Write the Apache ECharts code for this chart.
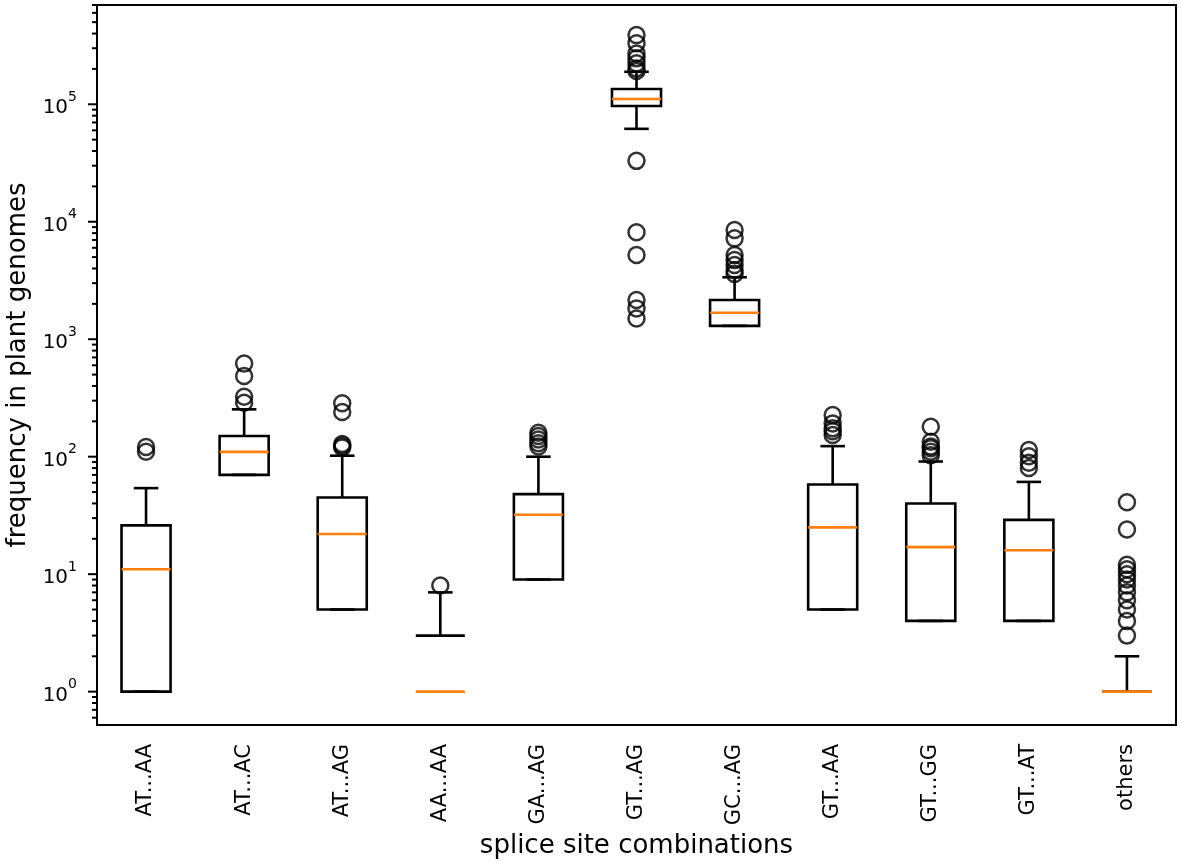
<!DOCTYPE html>
<html>
<head>
<meta charset="utf-8">
<script src="https://cdn.jsdelivr.net/npm/echarts@6/dist/echarts.min.js"></script>
<style>html,body{margin:0;padding:0;background:#fff}#c{width:1181px;height:868px}</style>
</head>
<body>
<div id="c"></div>
<script>
const categories = ['AT...AA','AT...AC','AT...AG','AA...AA','GA...AG','GT...AG','GC...AG','GT...AA','GT...GG','GT...AT','others'];
// 0 means the value is not positive (not drawable on the log axis)
const whiskerLow  = [1, 70, 5, 0, 9, 61800, 1300, 5, 4, 4, 0];
const q1          = [1, 70, 5, 0, 9, 96600, 1300, 5, 4, 4, 0];
const median      = [11, 110, 22, 1, 32, 111000, 1680, 25, 17, 16, 1];
const q3          = [26, 150, 45, 3, 48, 135000, 2160, 58, 40, 29, 1];
const whiskerHigh = [54, 253, 102, 7, 100, 189000, 3370, 123, 91, 61, 2];
const outliers = [
  [110, 121],
  [288, 324, 486, 620],
  [120, 124, 128, 240, 285],
  [8],
  [122, 130, 140, 150, 160],
  [1500, 1830, 2160, 5210, 8130, 33000, 192000, 202000, 223000, 246000, 271000, 330000, 388000],
  [3600, 3880, 4280, 4720, 5210, 7220, 8500],
  [153, 165, 175, 192, 226],
  [103, 110, 118, 122, 134, 180],
  [80, 89, 101, 114],
  [3, 4, 5, 6, 7, 8, 9, 10, 11, 12, 24, 41]
];
const yMin = 0.52, yMax = 700000;
const majorTicks = [1, 10, 100, 1000, 10000, 100000];
const minorMantissas = [2, 3, 4, 5, 6, 7, 8, 9];

const pos = v => (v > 0 ? v : null);
const boxData = categories.map((c, i) => [i, pos(whiskerLow[i]), pos(q1[i]), pos(median[i]), pos(q3[i]), pos(whiskerHigh[i])]);
const flierData = [];
outliers.forEach((arr, i) => arr.forEach(v => flierData.push([i, v])));
const tickData = [];
majorTicks.forEach(v => tickData.push([0, v, 1]));
[0.1, 1, 10, 100, 1000, 10000, 100000].forEach(d => minorMantissas.forEach(m => {
  const v = m * d; if (v >= yMin && v <= yMax) tickData.push([0, v, 0]);
}));

const chart = echarts.init(document.getElementById('c'), null, {renderer: 'canvas'});
const FONT = 'DejaVu Sans';
const LW = 2.6;
const ALW = 2;

function seg(x1, y1, x2, y2, color) {
  if (![x1, y1, x2, y2].every(Number.isFinite)) return null;
  return {type: 'line', shape: {x1, y1, x2, y2}, style: {stroke: color, lineWidth: LW, lineCap: 'butt'}};
}

chart.setOption({
  animation: false,
  backgroundColor: '#fff',
  grid: {left: 97, right: 5, top: 5, bottom: 143, containLabel: false, outerBoundsMode: 'none',
         show: true, borderColor: '#000', borderWidth: ALW, backgroundColor: 'transparent'},
  xAxis: {
    type: 'category', data: categories, boundaryGap: true,
    axisLine: {lineStyle: {color: '#000', width: ALW}},
    axisTick: {alignWithLabel: true, length: 9, lineStyle: {color: '#000', width: ALW}},
    axisLabel: {rotate: 90, margin: 19, color: '#000', fontFamily: FONT, fontSize: 21},
    splitLine: {show: false},
    name: 'splice site combinations', nameLocation: 'middle', nameGap: 108,
    nameTextStyle: {color: '#000', fontFamily: FONT, fontSize: 26}
  },
  yAxis: {
    type: 'log', logBase: 10, min: yMin, max: yMax,
    axisLine: {show: true, lineStyle: {color: '#000', width: ALW}},
    axisTick: {show: false},
    splitLine: {show: false},
    axisLabel: {
      margin: 20, color: '#000', fontFamily: FONT,
      formatter: function (v) {
        const e = Math.log10(v); const r = Math.round(e);
        if (Math.abs(e - r) > 1e-6) return '';
        return '{b|10}{s|' + r + '}';
      },
      rich: {
        b: {fontSize: 20, fontFamily: FONT, color: '#000', lineHeight: 28, verticalAlign: 'bottom'},
        s: {fontSize: 14, fontFamily: FONT, color: '#000', lineHeight: 15, verticalAlign: 'top'}
      }
    },
    name: 'frequency in plant genomes', nameLocation: 'middle', nameGap: 64,
    nameTextStyle: {color: '#000', fontFamily: FONT, fontSize: 26}
  },
  series: [
    {
      type: 'custom', name: 'yticks', data: tickData, clip: false, silent: true,
      encode: {x: 0, y: 1},
      renderItem: function (params, api) {
        const y = api.coord([0, api.value(1)])[1];
        const x0 = params.coordSys.x;
        const len = api.value(2) ? 9 : 5;
        return {type: 'line', shape: {x1: x0 - len, y1: y, x2: x0, y2: y}, style: {stroke: '#000', lineWidth: ALW}};
      }
    },
    {
      type: 'custom', name: 'boxes', data: boxData, clip: false,
      encode: {x: 0, y: [1, 2, 3, 4, 5]},
      renderItem: function (params, api) {
        const i = api.value(0);
        const cs = params.coordSys;
        const band = cs.width / categories.length;
        const x = api.coord([i, 1])[0];
        const w = band * 0.5;
        const l = x - w / 2, r = x + w / 2;
        const Y = k => { const v = api.value(k); return (v > 0) ? api.coord([i, v])[1] : NaN; };
        const lo = Y(1), a = Y(2), m = Y(3), b = Y(4), hi = Y(5);
        const box = [];
        if ([a, b].every(Number.isFinite)) {
          box.push({type: 'rect', shape: {x: l, y: b, width: w, height: a - b}, style: {fill: 'none', stroke: '#000', lineWidth: LW}});
        } else {
          box.push(seg(l, a, r, a, '#000'), seg(r, b, l, b, '#000'));
        }
        const ch = box.concat([
          seg(x, a, x, lo, '#000'), seg(x - w / 4, lo, x + w / 4, lo, '#000'),
          seg(x, b, x, hi, '#000'), seg(x - w / 4, hi, x + w / 4, hi, '#000'),
          seg(l, m, r, m, '#ff7f0e')
        ]).filter(Boolean);
        return {type: 'group', children: ch};
      }
    },
    {
      type: 'scatter', name: 'fliers', data: flierData, symbol: 'circle', symbolSize: 16,
      itemStyle: {color: 'rgba(0,0,0,0)', borderColor: '#000', borderWidth: 2.5},
      emphasis: {disabled: true}, z: 3
    }
  ]
});
</script>
</body>
</html>
